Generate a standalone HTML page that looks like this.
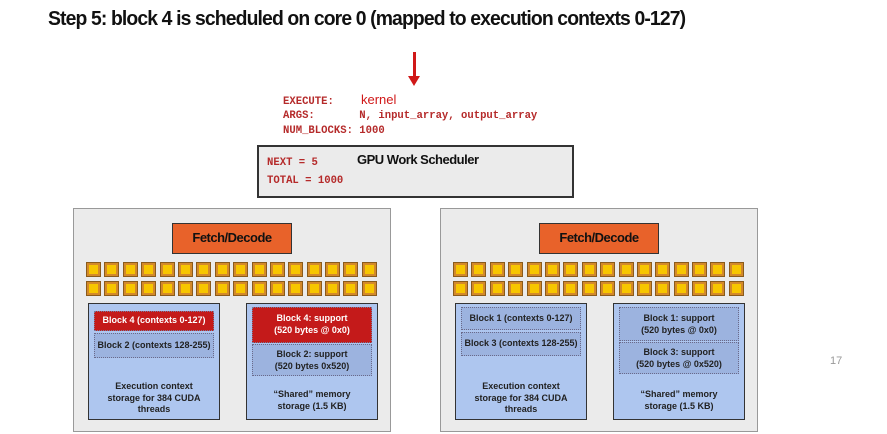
<!DOCTYPE html>
<html><head><style>
*{margin:0;padding:0;box-sizing:border-box}
body{width:887px;height:434px;background:#fff;position:relative;overflow:hidden;font-family:"Liberation Sans",sans-serif}
.a{position:absolute}
.title{left:48px;top:8px;font-size:20px;font-weight:bold;color:#111;letter-spacing:-0.9px;transform:scaleX(0.968);transform-origin:left;white-space:nowrap}
.mono{font-family:"Liberation Mono",monospace;font-weight:bold;color:#b52a2a;font-size:10.6px;white-space:nowrap}
.core{background:#ebebeb;border:1.5px solid #999}
.fd{background:#e8622a;border:1.5px solid #333;font-weight:bold;font-size:13px;text-align:center;color:#111;letter-spacing:-0.5px}
.sq{width:15px;height:15px;background:#d3892a;border:1px solid #8a5a1a}
.sq i{display:block;margin:2px;width:9px;height:9px;background:#f7c600}
.bl{background:#aec6ef;border:1.5px solid #333}
.red{background:#c41a1a;border:1.5px dotted #7a7a9a;color:#fff;font-weight:bold;font-size:9px;text-align:center}
.dot{background:#9cb3df;border:1.5px dotted #6a6a8a;color:#222;font-weight:bold;font-size:9px;text-align:center}
.lab{font-size:9px;font-weight:bold;color:#222;text-align:center;line-height:11.5px}
</style></head><body>
<div class="a title">Step 5: block 4 is scheduled on core 0 (mapped to execution contexts 0-127)</div>
<div class="a" style="left:413px;top:52px;width:3px;height:26px;background:#d01818"></div>
<div class="a" style="left:408px;top:76px;width:0;height:0;border-left:6.5px solid transparent;border-right:6.5px solid transparent;border-top:10px solid #d01818"></div>
<div class="a mono" style="left:283px;top:96px">EXECUTE:</div>
<div class="a" style="left:361px;top:92px;font-size:13px;color:#d01818">kernel</div>
<div class="a mono" style="left:283px;top:110px">ARGS:&nbsp;&nbsp;&nbsp;&nbsp;&nbsp;&nbsp;&nbsp;N, input_array, output_array</div>
<div class="a mono" style="left:283px;top:125px">NUM_BLOCKS: 1000</div>
<div class="a" style="left:257px;top:145px;width:317px;height:53px;background:#ebebeb;border:2px solid #333"></div>
<div class="a mono" style="left:267px;top:157px">NEXT = 5</div>
<div class="a mono" style="left:267px;top:175px">TOTAL = 1000</div>
<div class="a" style="left:357px;top:152px;font-size:13px;font-weight:bold;letter-spacing:-0.5px;color:#111">GPU Work Scheduler</div>

<!-- left core -->
<div class="a core" style="left:73px;top:208px;width:318px;height:224px"></div>
<div class="a fd" style="left:172px;top:223px;width:120px;height:31px;line-height:28px">Fetch/Decode</div>
<div class="a" id="s1" style="left:86px;top:262px;width:292px;display:flex;flex-wrap:wrap;gap:4px 3.4px"></div>
<div class="a bl" style="left:88px;top:303px;width:132px;height:117px"></div>
<div class="a red" style="left:94px;top:311px;width:120px;height:20px;line-height:17px">Block 4 (contexts 0-127)</div>
<div class="a dot" style="left:94px;top:333px;width:120px;height:25px;line-height:22px">Block 2 (contexts 128-255)</div>
<div class="a lab" style="left:88px;top:381px;width:132px">Execution context<br>storage for 384 CUDA<br>threads</div>
<div class="a bl" style="left:246px;top:303px;width:132px;height:117px"></div>
<div class="a red" style="left:252px;top:307px;width:120px;height:36px;line-height:12px;padding-top:4px">Block 4: support<br>(520 bytes @ 0x0)</div>
<div class="a dot" style="left:252px;top:344px;width:120px;height:32px;line-height:12px;padding-top:3px">Block 2: support<br>(520 bytes 0x520)</div>
<div class="a lab" style="left:246px;top:389px;width:132px">“Shared” memory<br>storage (1.5 KB)</div>

<!-- right core -->
<div class="a core" style="left:440px;top:208px;width:318px;height:224px"></div>
<div class="a fd" style="left:539px;top:223px;width:120px;height:31px;line-height:28px">Fetch/Decode</div>
<div class="a" id="s2" style="left:453px;top:262px;width:292px;display:flex;flex-wrap:wrap;gap:4px 3.4px"></div>
<div class="a bl" style="left:455px;top:303px;width:132px;height:117px"></div>
<div class="a dot" style="left:461px;top:307px;width:120px;height:23px;line-height:20px">Block 1 (contexts 0-127)</div>
<div class="a dot" style="left:461px;top:332px;width:120px;height:24px;line-height:21px">Block 3 (contexts 128-255)</div>
<div class="a lab" style="left:455px;top:381px;width:132px">Execution context<br>storage for 384 CUDA<br>threads</div>
<div class="a bl" style="left:613px;top:303px;width:132px;height:117px"></div>
<div class="a dot" style="left:619px;top:307px;width:120px;height:34px;line-height:12px;padding-top:4px">Block 1: support<br>(520 bytes @ 0x0)</div>
<div class="a dot" style="left:619px;top:342px;width:120px;height:32px;line-height:12px;padding-top:3px">Block 3: support<br>(520 bytes @ 0x520)</div>
<div class="a lab" style="left:613px;top:389px;width:132px">“Shared” memory<br>storage (1.5 KB)</div>

<div class="a" style="left:830px;top:355px;font-size:11px;color:#999">17</div>
<script>
for(const id of ['s1','s2']){let h='';for(let i=0;i<32;i++)h+='<div class="sq"><i></i></div>';document.getElementById(id).innerHTML=h;}
</script>
</body></html>
